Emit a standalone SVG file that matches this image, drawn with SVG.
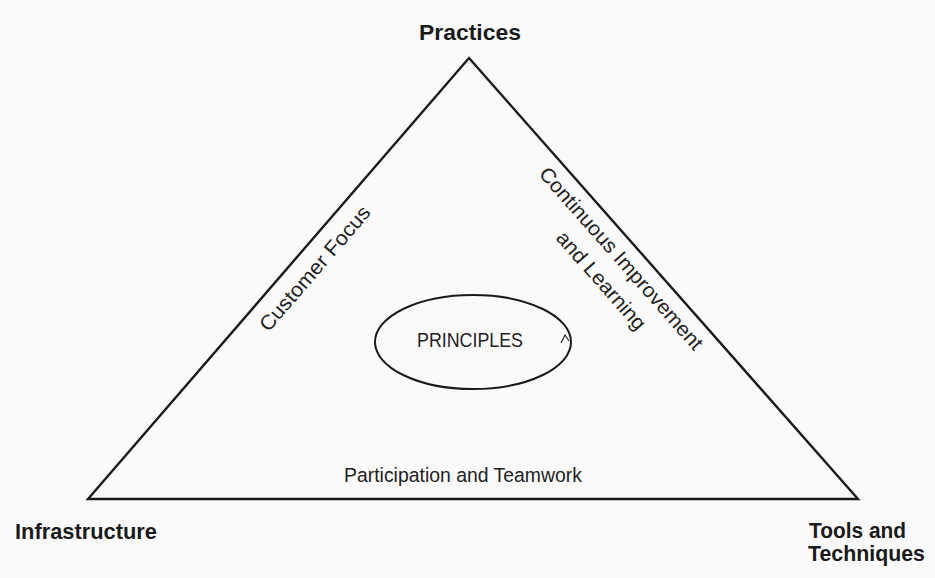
<svg xmlns="http://www.w3.org/2000/svg" width="935" height="578" viewBox="0 0 935 578">
  <style>
    .corner { font-family: "Liberation Sans", Arial, sans-serif; font-weight: bold; font-size: 22px; fill: #1a1a1a; }
    .side { font-family: "Liberation Sans", Arial, sans-serif; font-size: 20.5px; fill: #222; }
    .edge { fill: none; stroke: #1a1a1a; stroke-width: 2.4; stroke-linejoin: miter; }
  </style>
  <rect width="935" height="578" fill="#fbfafb"/>

  <g id="connectors">
    <polygon class="edge" points="469,58 858,499 88,499"/>
  </g>

  <g id="practices">
    <text class="corner" x="470" y="40" text-anchor="middle" textLength="102" lengthAdjust="spacingAndGlyphs">Practices</text>
  </g>

  <g id="infrastructure">
    <text class="corner" x="15" y="539" textLength="142" lengthAdjust="spacingAndGlyphs">Infrastructure</text>
  </g>

  <g id="tools">
    <text class="corner" x="809" y="538" font-size="19" textLength="97" lengthAdjust="spacingAndGlyphs">Tools and</text>
    <text class="corner" x="808" y="561" font-size="19" textLength="117" lengthAdjust="spacingAndGlyphs">Techniques</text>
  </g>

  <g id="customer-focus">
    <text class="side" transform="translate(320,273) rotate(-49.2)" text-anchor="middle" textLength="158" lengthAdjust="spacingAndGlyphs">Customer Focus</text>
  </g>

  <g id="continuous-improvement">
    <text class="side" transform="translate(616,263) rotate(48.6)" text-anchor="middle" textLength="236" lengthAdjust="spacingAndGlyphs">Continuous Improvement</text>
    <text class="side" transform="translate(596,285) rotate(48.6)" text-anchor="middle" textLength="124" lengthAdjust="spacingAndGlyphs">and Learning</text>
  </g>

  <g id="participation">
    <text class="side" x="463" y="482" text-anchor="middle" textLength="238" lengthAdjust="spacingAndGlyphs">Participation and Teamwork</text>
  </g>

  <g id="principles">
    <ellipse cx="473" cy="342" rx="98" ry="47" fill="none" stroke="#1a1a1a" stroke-width="2"/>
    <path d="M561,343 L565,335 L569,341" fill="none" stroke="#333" stroke-width="1.3"/>
    <text class="side" x="470" y="347" text-anchor="middle" font-size="19" textLength="106" lengthAdjust="spacingAndGlyphs">PRINCIPLES</text>
  </g>
</svg>
